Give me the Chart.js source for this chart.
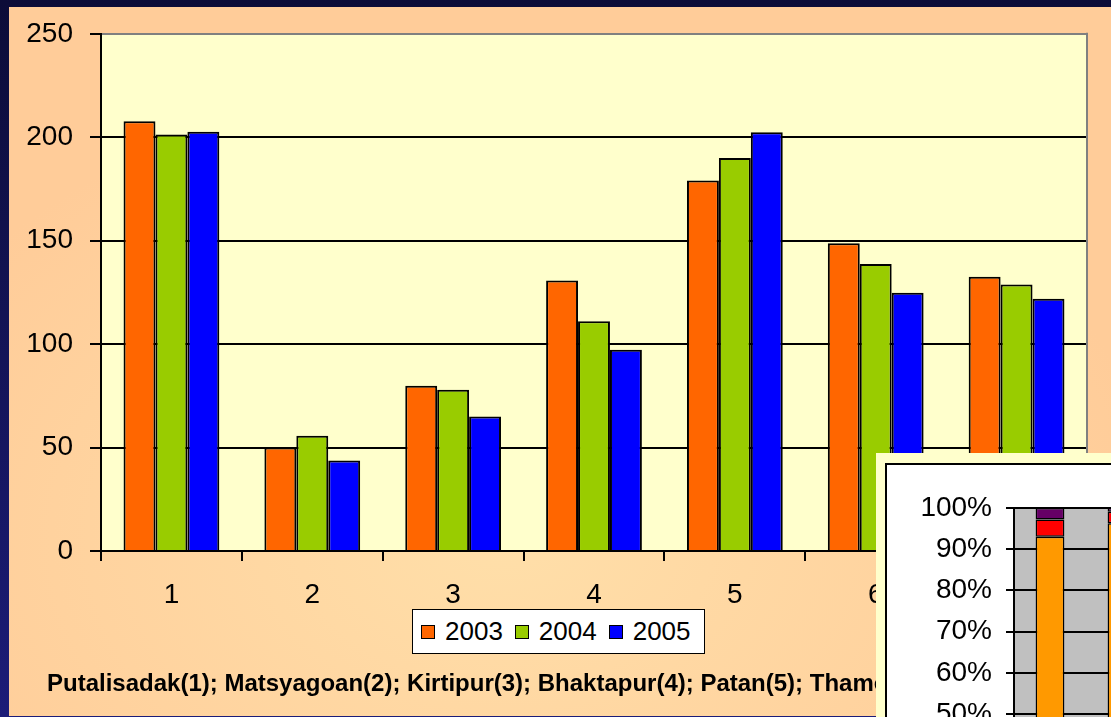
<!DOCTYPE html>
<html><head><meta charset="utf-8">
<script src="https://cdn.jsdelivr.net/npm/chart.js@4/dist/chart.umd.min.js"></script>
<style>
html,body{margin:0;padding:0;width:1111px;height:717px;overflow:hidden;background:linear-gradient(180deg,#0c0c38 0%,#1c1c78 100%);}
#panel{position:absolute;left:9px;top:7px;width:1102px;height:709px;background:radial-gradient(ellipse 60% 65% at 45% 75%,#FFDFA9 0%,#FFCC99 100%);}
#main{position:absolute;left:0;top:0;}
#legend{position:absolute;left:412px;top:609px;width:293px;height:45px;box-sizing:border-box;background:#fff;border:1px solid #000;display:flex;align-items:center;padding-left:8px;font:26px "Liberation Sans",Arial,sans-serif;color:#000;}
#legend .it{display:flex;align-items:center;margin-right:12px;}
#legend .sw{width:14px;height:14px;box-sizing:border-box;border:1px solid #000;margin-right:10px;}
#note{position:absolute;left:47px;top:671px;font:bold 24px/24px "Liberation Sans",Arial,sans-serif;color:#000;white-space:nowrap;}
#inset{position:absolute;left:876px;top:453px;width:300px;height:500px;background:#FFFFCC;}
#insetInner{position:absolute;left:9px;top:10px;width:300px;height:500px;background:#fff;border-left:2px solid #000;border-top:2px solid #000;}
#insetCv{position:absolute;left:886px;top:465px;}
</style></head>
<body>
<div id="panel"></div>
<canvas id="main" width="1111" height="717"></canvas>
<div id="legend"></div>
<div id="note">Putalisadak(1); Matsyagoan(2); Kirtipur(3); Bhaktapur(4); Patan(5); Thamel(6)</div>
<div id="inset"><div id="insetInner"></div></div>
<canvas id="insetCv" width="280" height="486"></canvas>
<script>
// ---- main chart data ----
const categories = ["1","2","3","4","5","6","7"];
const seriesNames = ["2003","2004","2005"];
const values2003 = [207.7, 50.0, 79.9, 130.7, 179.1, 148.7, 132.6];
const values2004 = [201.3, 55.7, 77.9, 111.1, 190.0, 138.7, 128.8];
const values2005 = [202.6, 43.8, 65.0, 97.3, 202.4, 124.8, 121.9];
const seriesColors = ["#FF6600","#99CC00","#0000FF"];
const yTicks = [0,50,100,150,200,250];

// ---- inset chart data (100% stacked) ----
const insetCategories = ["1","2"];
const insetNames = ["A","B","C"];
const insetA = [93.0, 96.3];
const insetB = [4.2, 2.8];
const insetC = [2.8, 0.9];
const insetColors = ["#FF9900","#FF0000","#660066"];

const FONT = '"Liberation Sans", Arial, sans-serif';

const bgPlugin = {
  id:'bgPlugin',
  beforeDraw(chart, args, opts){
    const a = chart.chartArea, c = chart.ctx;
    c.save(); c.fillStyle = opts.color; c.fillRect(a.left, a.top, a.right-a.left, a.bottom-a.top); c.restore();
  },
  afterDraw(chart, args, opts){
    if(!opts.rightBorder) return;
    const a = chart.chartArea, c = chart.ctx;
    c.save(); c.strokeStyle = opts.rightBorder; c.lineWidth = 2;
    c.beginPath(); c.moveTo(a.right, a.top-1); c.lineTo(a.right, a.bottom); c.stroke(); c.restore();
  }
};

const seriesData = [values2003, values2004, values2005];
new Chart(document.getElementById('main'), {
  type:'bar',
  data:{
    labels:categories,
    datasets: seriesNames.map((n,i)=>({label:n, data:seriesData[i], backgroundColor:seriesColors[i], borderColor:'#000', borderWidth:2, categoryPercentage:0.68, barPercentage:1.0}))
  },
  options:{
    responsive:false, animation:false,
    layout:{padding:{left:0, top:31, right:24, bottom:0}},
    plugins:{legend:{display:false}, tooltip:{enabled:false}, bgPlugin:{color:'#FFFFCC', rightBorder:'#808080'}},
    scales:{
      y:{
        min:0, max:250,
        afterBuildTicks:(s)=>{ s.ticks = yTicks.map(v=>({value:v})); },
        afterFit:(s)=>{ s.width = 101; },
        ticks:{font:{family:FONT, size:28}, color:'#000', padding:17},
        grid:{color:(ctx)=> ctx.tick && ctx.tick.value===250 ? '#808080' : '#000', tickColor:'#000', lineWidth:2, tickLength:11},
        border:{color:'#000', width:2}
      },
      x:{
        afterFit:(s)=>{ s.height = 166; },
        ticks:{font:{family:FONT, size:28}, color:'#000', padding:17},
        grid:{drawOnChartArea:false, color:'#000', lineWidth:2, tickLength:10, offset:true},
        border:{color:'#000', width:2}
      }
    }
  },
  plugins:[bgPlugin]
});

// legend
const lg = document.getElementById('legend');
seriesNames.forEach((n,i)=>{
  const it = document.createElement('div'); it.className='it';
  const sw = document.createElement('div'); sw.className='sw'; sw.style.background = seriesColors[i];
  const t = document.createElement('span'); t.textContent = n;
  it.appendChild(sw); it.appendChild(t); lg.appendChild(it);
});

// inset chart
const insetData = [insetA, insetB, insetC];
new Chart(document.getElementById('insetCv'), {
  type:'bar',
  data:{
    labels:insetCategories,
    datasets: insetNames.map((n,i)=>({label:n, data:insetData[i], backgroundColor:insetColors[i], borderColor:'#000', borderWidth:1.5, borderSkipped:false, categoryPercentage:1.0, barPercentage:0.4}))
  },
  options:{
    responsive:false, animation:false,
    layout:{padding:{left:0, top:43, right:8, bottom:17}},
    plugins:{legend:{display:false}, tooltip:{enabled:false}, bgPlugin:{color:'#C0C0C0'}},
    scales:{
      x:{stacked:true, display:false},
      y:{
        stacked:true, min:0, max:100,
        afterFit:(s)=>{ s.width = 128; },
        ticks:{stepSize:10, font:{family:FONT, size:28}, color:'#000', padding:14, callback:(v)=>v+'%'},
        grid:{color:'#000', lineWidth:2, tickLength:8},
        border:{color:'#000', width:2}
      }
    }
  },
  plugins:[bgPlugin]
});
</script>
</body></html>
